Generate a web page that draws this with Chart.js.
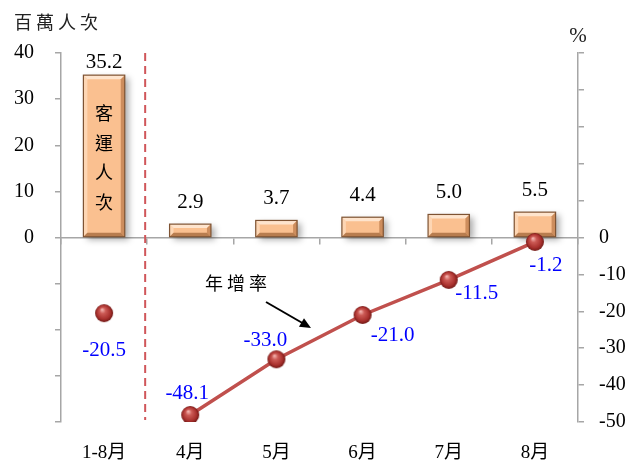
<!DOCTYPE html>
<html>
<head>
<meta charset="utf-8">
<script src="https://cdn.jsdelivr.net/npm/chart.js@4"></script>
<style>
  body { margin: 0; background: #fff; }
  #wrap { width: 630px; height: 464px; position: relative; }
</style>
</head>
<body>
<div id="wrap"><canvas id="myChart"></canvas></div>
<script>
// data
const categories = ['1-8月', '4月', '5月', '6月', '7月', '8月'];
const passengers = [35.2, 2.9, 3.7, 4.4, 5.0, 5.5];      // 百萬人次
const growthRate = [-20.5, -48.1, -33.0, -21.0, -11.5, -1.2]; // %
const leftTitle = '百萬人次';
const rightTitle = '%';
const barNote = '客運人次';
const lineNote = '年增率';

// where each growth label sits relative to its point (dx, dy)
const rateLabelOffsets = [[0, 37], [-3, -22], [-11, -19], [30, 20], [28, 14], [11, 24]];

const NUM_FONT = '"Liberation Serif", "Noto Sans CJK TC", serif';
const CJK_FONT = '"Noto Sans CJK TC", "Liberation Serif", sans-serif';
const AXIS_GRAY = '#A6A6A6';

function makeBall(r) {
  const c = document.createElement('canvas');
  const s = r * 2 + 2;
  c.width = c.height = s;
  const g = c.getContext('2d');
  const grad = g.createRadialGradient(s * 0.4, s * 0.32, 0.5, s / 2, s / 2, r);
  grad.addColorStop(0, '#F2B0AB');
  grad.addColorStop(0.3, '#CC5A55');
  grad.addColorStop(0.75, '#A8302D');
  grad.addColorStop(1, '#701815');
  g.fillStyle = grad;
  g.beginPath();
  g.arc(s / 2, s / 2, r, 0, Math.PI * 2);
  g.fill();
  return c;
}
const ball = makeBall(9);

function barBox(bar) {
  const p = bar.getProps(['x', 'y', 'base', 'width'], true);
  const top = Math.min(p.y, p.base);
  const bottom = Math.max(p.y, p.base);
  return { left: p.x - p.width / 2, top, w: p.width, h: bottom - top };
}

const extras = {
  id: 'extras',
  beforeDatasetsDraw(chart) {
    const { ctx, chartArea, scales } = chart;
    // dashed divider between 1-8月 and the monthly bars
    const xd = (scales.x.getPixelForValue(0) + scales.x.getPixelForValue(1)) / 2 - 2;
    ctx.save();
    ctx.strokeStyle = '#D0565A';
    ctx.lineWidth = 2;
    ctx.setLineDash([8, 5]);
    ctx.beginPath();
    ctx.moveTo(xd, chartArea.top);
    ctx.lineTo(xd, chartArea.bottom - 2);
    ctx.stroke();
    ctx.restore();
  },
  beforeDatasetDraw(chart, args) {
    if (args.meta.type !== 'bar') return;
    const ctx = chart.ctx;
    // soft drop shadow behind each bar
    ctx.save();
    ctx.filter = 'blur(3px)';
    ctx.fillStyle = 'rgba(0,0,0,0.32)';
    args.meta.data.forEach(bar => {
      const b = barBox(bar);
      ctx.fillRect(b.left + 4, b.top + 3, b.w, b.h);
    });
    ctx.restore();
  },
  afterDatasetDraw(chart, args) {
    if (args.meta.type !== 'bar') return;
    const ctx = chart.ctx;
    ctx.save();
    args.meta.data.forEach(bar => {
      const b = barBox(bar);
      const e = Math.min(4, b.h / 3);
      const l = b.left, t = b.top, r = b.left + b.w, btm = b.top + b.h;
      // bevel: light top/left, dark right/bottom
      ctx.fillStyle = 'rgba(255,240,225,0.75)';
      ctx.beginPath();
      ctx.moveTo(l, t); ctx.lineTo(r, t); ctx.lineTo(r - e, t + e); ctx.lineTo(l + e, t + e); ctx.closePath();
      ctx.fill();
      ctx.fillStyle = 'rgba(255,235,215,0.5)';
      ctx.beginPath();
      ctx.moveTo(l, t); ctx.lineTo(l + e, t + e); ctx.lineTo(l + e, btm - e); ctx.lineTo(l, btm); ctx.closePath();
      ctx.fill();
      ctx.fillStyle = 'rgba(150,80,30,0.45)';
      ctx.beginPath();
      ctx.moveTo(r, t); ctx.lineTo(r, btm); ctx.lineTo(r - e, btm - e); ctx.lineTo(r - e, t + e); ctx.closePath();
      ctx.fill();
      ctx.fillStyle = 'rgba(130,70,25,0.55)';
      ctx.beginPath();
      ctx.moveTo(l, btm); ctx.lineTo(r, btm); ctx.lineTo(r - e, btm - e); ctx.lineTo(l + e, btm - e); ctx.closePath();
      ctx.fill();
      ctx.strokeStyle = '#7E5333';
      ctx.lineWidth = 1.2;
      ctx.strokeRect(l, t, b.w, b.h);
    });
    ctx.restore();
  },
  afterDatasetsDraw(chart) {
    const { ctx, chartArea, scales } = chart;
    ctx.save();
    ctx.textAlign = 'center';
    ctx.textBaseline = 'middle';

    // bar values
    const barMeta = chart.getDatasetMeta(1);
    ctx.fillStyle = '#000';
    ctx.font = '21px ' + NUM_FONT;
    barMeta.data.forEach((bar, i) => {
      const y = Math.max(bar.y - 22, chartArea.top + 9);
      ctx.fillText(passengers[i].toFixed(1), bar.x, y);
    });

    // vertical note inside first bar
    const first = barMeta.data[0];
    ctx.font = '18px ' + CJK_FONT;
    [...barNote].forEach((ch, k) => {
      ctx.fillText(ch, first.x, 113 + k * 29.7);
    });

    // growth labels
    const lineMeta = chart.getDatasetMeta(0);
    ctx.fillStyle = '#0000FF';
    ctx.font = '21px ' + NUM_FONT;
    lineMeta.data.forEach((pt, i) => {
      const [dx, dy] = rateLabelOffsets[i];
      ctx.fillText(growthRate[i].toFixed(1), pt.x + dx, pt.y + dy);
    });

    // 年增率 with arrow
    ctx.fillStyle = '#000';
    ctx.font = '18px ' + CJK_FONT;
    [...lineNote].forEach((ch, k) => ctx.fillText(ch, 214 + k * 22, 283));
    const ax0 = 266, ay0 = 302, ax1 = 311, ay1 = 328;
    ctx.strokeStyle = '#000';
    ctx.lineWidth = 2;
    ctx.beginPath();
    ctx.moveTo(ax0, ay0);
    ctx.lineTo(ax1 - 6, ay1 - 3.5);
    ctx.stroke();
    const ang = Math.atan2(ay1 - ay0, ax1 - ax0);
    ctx.beginPath();
    ctx.moveTo(ax1, ay1);
    ctx.lineTo(ax1 - 11 * Math.cos(ang) + 5 * Math.sin(ang), ay1 - 11 * Math.sin(ang) - 5 * Math.cos(ang));
    ctx.lineTo(ax1 - 11 * Math.cos(ang) - 5 * Math.sin(ang), ay1 - 11 * Math.sin(ang) + 5 * Math.cos(ang));
    ctx.closePath();
    ctx.fill();

    // axis titles
    ctx.fillStyle = '#222';
    ctx.font = '18px ' + CJK_FONT;
    [...leftTitle].forEach((ch, k) => ctx.fillText(ch, 23 + k * 22, 22));
    ctx.font = '21px ' + NUM_FONT;
    ctx.fillText(rightTitle, scales.y1.left, 36);
    ctx.restore();
  }
};

new Chart(document.getElementById('myChart'), {
  data: {
    labels: categories,
    datasets: [
      {
        type: 'line',
        label: lineNote,
        data: growthRate,
        yAxisID: 'y1',
        xAxisID: 'x',
        order: 1,
        borderColor: '#C0504D',
        borderWidth: 3.5,
        pointStyle: ball,
        pointRadius: 9,
        segment: {
          borderColor: c => (c.p0DataIndex === 0 ? 'rgba(0,0,0,0)' : '#C0504D')
        }
      },
      {
        type: 'bar',
        label: barNote,
        data: passengers,
        yAxisID: 'y',
        xAxisID: 'x',
        order: 2,
        backgroundColor: '#FAC090',
        borderWidth: 0,
        barPercentage: 0.48,
        categoryPercentage: 1
      }
    ]
  },
  options: {
    responsive: true,
    maintainAspectRatio: false,
    animation: false,
    layout: { padding: { top: 53 } },
    plugins: {
      legend: { display: false },
      tooltip: { enabled: false }
    },
    scales: {
      x: {
        type: 'category',
        position: { y: 0 },
        offset: true,
        ticks: { display: false },
        grid: { offset: true, drawOnChartArea: false, drawTicks: true, tickLength: 6, color: AXIS_GRAY, lineWidth: 1.5 },
        border: { color: AXIS_GRAY, width: 1.5 }
      },
      x2: {
        type: 'category',
        labels: categories,
        position: 'bottom',
        offset: true,
        grid: { display: false, drawTicks: false },
        border: { display: false },
        ticks: { color: '#000', padding: 20, font: { size: 19, family: NUM_FONT } },
        afterFit: s => { s.height = 42; }
      },
      y: {
        position: 'left',
        min: -40,
        max: 40,
        ticks: {
          stepSize: 10,
          padding: 21,
          color: '#000',
          font: { size: 20, family: NUM_FONT },
          callback: v => (v >= 0 ? v : '')
        },
        grid: { drawOnChartArea: false, drawTicks: true, tickLength: 6, color: AXIS_GRAY, lineWidth: 1.5 },
        border: { color: AXIS_GRAY, width: 1.5 },
        afterFit: s => { s.width = 61; }
      },
      y1: {
        position: 'right',
        min: -50,
        max: 50,
        ticks: {
          stepSize: 10,
          padding: 15,
          color: '#000',
          font: { size: 20, family: NUM_FONT },
          callback: v => (v <= 0 ? v : '')
        },
        grid: { drawOnChartArea: false, drawTicks: true, tickLength: 6, color: AXIS_GRAY, lineWidth: 1.5 },
        border: { color: AXIS_GRAY, width: 1.5 },
        afterFit: s => { s.width = 52; }
      }
    }
  },
  plugins: [extras]
});
</script>
</body>
</html>
